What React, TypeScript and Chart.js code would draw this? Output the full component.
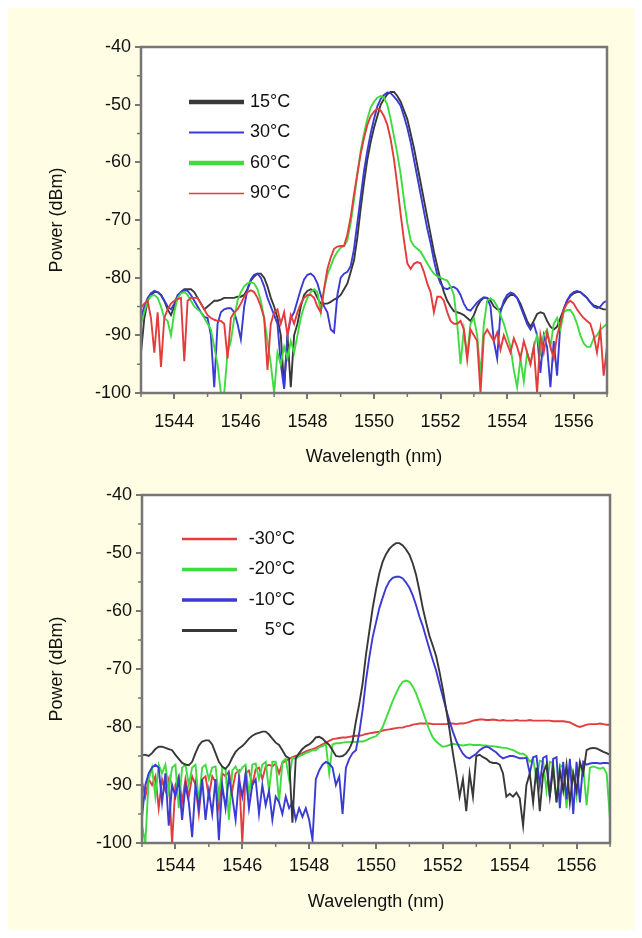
import React, { useEffect, useRef } from "react";
import { Chart, registerables } from "chart.js";

Chart.register(...registerables);

const FONT_FAMILY = '"Liberation Sans", Arial, Helvetica, sans-serif';
const AXIS_COLOR = "#767676";
const TEXT_COLOR = "#111111";

// Wavelength samples (nm)
const WAVELENGTH = [
  1543.0, 1543.1, 1543.2, 1543.3, 1543.4, 1543.5, 1543.6, 1543.7, 1543.8, 1543.9,
  1544.0, 1544.1, 1544.2, 1544.3, 1544.4, 1544.5, 1544.6, 1544.7, 1544.8, 1544.9,
  1545.0, 1545.1, 1545.2, 1545.3, 1545.4, 1545.5, 1545.6, 1545.7, 1545.8, 1545.9,
  1546.0, 1546.1, 1546.2, 1546.3, 1546.4, 1546.5, 1546.6, 1546.7, 1546.8, 1546.9,
  1547.0, 1547.1, 1547.2, 1547.3, 1547.4, 1547.5, 1547.6, 1547.7, 1547.8, 1547.9,
  1548.0, 1548.1, 1548.2, 1548.3, 1548.4, 1548.5, 1548.6, 1548.7, 1548.8, 1548.9,
  1549.0, 1549.1, 1549.2, 1549.3, 1549.4, 1549.5, 1549.6, 1549.7, 1549.8, 1549.9,
  1550.0, 1550.1, 1550.2, 1550.3, 1550.4, 1550.5, 1550.6, 1550.7, 1550.8, 1550.9,
  1551.0, 1551.1, 1551.2, 1551.3, 1551.4, 1551.5, 1551.6, 1551.7, 1551.8, 1551.9,
  1552.0, 1552.1, 1552.2, 1552.3, 1552.4, 1552.5, 1552.6, 1552.7, 1552.8, 1552.9,
  1553.0, 1553.1, 1553.2, 1553.3, 1553.4, 1553.5, 1553.6, 1553.7, 1553.8, 1553.9,
  1554.0, 1554.1, 1554.2, 1554.3, 1554.4, 1554.5, 1554.6, 1554.7, 1554.8, 1554.9,
  1555.0, 1555.1, 1555.2, 1555.3, 1555.4, 1555.5, 1555.6, 1555.7, 1555.8, 1555.9,
  1556.0, 1556.1, 1556.2, 1556.3, 1556.4, 1556.5, 1556.6, 1556.7, 1556.8, 1556.9,
  1557.0,
];

const X_TICKS = [1544, 1546, 1548, 1550, 1552, 1554, 1556];
const X_MINOR = [1543, 1545, 1547, 1549, 1551, 1553, 1555, 1557];
const Y_TICKS = [-100, -90, -80, -70, -60, -50, -40];
const Y_MINOR = [-95, -85, -75, -65, -55, -45];

// ---------- Top panel (high temperatures) ----------
const TOP_LABELS = ["15°C", "30°C", "60°C", "90°C"];

const P_15C = [
  -93, -87, -84, -83, -82.5, -82.5, -83, -84, -85.5, -86.5,
  -85, -83.5, -82.5, -82, -82, -82, -82.5, -83.5, -84.5, -85.5,
  -85, -84.5, -84, -84, -83.8, -83.5, -83.5, -83.5, -83.5, -83.3,
  -83.3, -83, -82, -80.5, -79.8, -79.3, -79.3, -80, -81.5, -83.5,
  -85, -87, -90, -99, -90, -99, -90, -88, -85, -83,
  -82.3, -82, -82.3, -83.5, -84.5, -84.5, -84.5, -84.2, -83.8, -83.5,
  -83, -82, -81, -79, -77, -73, -68, -63.5, -59.5, -56.5,
  -54, -52, -50, -49, -48.2, -47.8, -47.8, -48.5, -49.5, -51,
  -52.5, -55, -57.5, -60.5, -63.5, -66.5, -69.5, -72.5, -75.5, -78,
  -80.5, -82.5, -84, -85, -85.8, -86, -86.2, -86.5, -87, -87.5,
  -86.5, -85, -84, -83.5, -83.5, -84, -85, -85.5, -85.5, -84.5,
  -83.5, -83, -83, -83.5, -84.5, -86, -87.5, -88.5, -87.5, -86.3,
  -86, -86.2, -87.5, -88.5, -89, -88.5, -87, -85.5, -84, -83.2,
  -82.7, -82.5, -82.5, -83, -83.5, -84.3, -84.8, -85, -85.3, -85.5,
  -85.5,
];

const P_30C = [
  -87, -85, -83.5, -82.7, -82.3, -82.5, -83, -84, -85, -85.5,
  -84.5, -83, -82.5, -82.2, -82.3, -83, -84, -85, -86, -86.8,
  -87, -90, -99, -88, -86, -85.5, -85.3, -85.3, -86, -88,
  -90.7, -85, -82, -80.3, -79.5, -79.3, -80, -81.5, -83.5, -85,
  -86.5, -88, -95, -99.3, -90, -87, -86, -84, -82, -80.3,
  -79.5, -79.3, -79.8, -81, -83, -85, -86, -89, -89.5, -83,
  -80, -79.3, -79, -78, -75, -70.5, -66, -61.5, -58, -55,
  -52.5, -50.3, -49, -48.3, -47.9, -48, -48.6, -49.3, -50.2, -52,
  -54, -56.5, -59.5, -62.5, -65.5, -68.5, -71.5, -74, -77, -79.5,
  -81, -81.8, -82, -81.7, -81.6, -82, -83, -84.5, -85.5, -85.7,
  -85, -84.3, -83.8, -83.4, -83.5, -85, -91, -94, -86, -84,
  -83, -82.6, -82.8, -83.5, -85, -86.5, -88, -89, -88, -90,
  -96.5, -90, -92, -99, -91, -97, -88, -85.5, -84, -83,
  -82.5, -82.3, -82.5, -83, -83.5, -84.3, -85, -85.3, -85, -84.3,
  -84,
];

const P_60C = [
  -88, -86, -84, -83.2, -83, -83.5, -85, -87, -87.5, -90,
  -86, -83.5, -82.7, -82.5, -83, -84, -85, -85.5, -86, -87,
  -88, -89, -92, -95, -100, -100, -93, -91, -87, -84,
  -82.5, -81.5, -81, -80.8, -81, -82, -84, -87, -91, -95,
  -100, -93, -95, -92, -94, -91, -93, -90, -87, -85,
  -83.5, -82.5, -82, -82.5, -86, -82, -79.5, -78, -76.5, -75.5,
  -74.8, -74.5, -73.5, -70.5, -66.5, -62, -58, -55, -52.5, -50.5,
  -49.5, -48.8, -48.5, -48.8, -50, -52.5, -55.5, -58.5, -62, -66.5,
  -70.5, -73.5, -74.5, -75, -75.5, -76.5, -77.5, -78.5, -79.3, -79.8,
  -80, -80.3, -80.5, -81.5, -83, -88, -95, -89, -93.5, -88,
  -87, -90, -97, -88, -84, -83.6, -84, -85, -86.5, -88,
  -90, -92, -96, -99, -94, -98, -93, -95, -92, -90,
  -93, -90, -89, -92, -88, -87, -89, -86, -85.6, -85.6,
  -86.5, -88, -90, -91.4, -92, -92, -90.5, -90, -89, -88.5,
  -88,
];

const P_90C = [
  -85.2, -84.5, -84, -87, -93, -86, -95.5, -87, -85.5, -84.5,
  -84, -83.7, -83.5, -94.5, -84, -83.5, -83.5, -83.5, -84.5, -85.5,
  -86.5, -87, -87.3, -87.5, -87.5, -88, -94, -87, -86, -85.5,
  -84.5, -83.3, -82.5, -82.2, -82.5, -83.5, -85, -87, -96, -88,
  -86, -85.5, -88, -86, -90, -86.5, -88, -86, -84.5, -83.5,
  -83, -83, -83.5, -85, -86, -82, -78.5, -76.5, -75, -74.6,
  -74.5, -74.5, -72.5, -69.5, -65.5, -62, -58.5, -55.8, -53.5, -52,
  -51.2, -50.7, -51, -52, -53.5, -56, -59.5, -64, -69, -73.5,
  -77.5, -78.5, -77.6, -77.3, -77.5, -79, -81, -82.5, -86, -83.3,
  -83.3, -84, -86, -87.5, -88, -88, -87.5, -89, -94.2, -89,
  -90, -91, -100, -90, -89, -90, -91, -89.5, -92.5, -90,
  -91.5, -93, -90.5, -92, -94, -91, -93, -95, -92, -100,
  -90, -93, -89.5, -92, -94, -90, -88, -85.6, -84.5, -84,
  -84.5, -85.5, -86.3, -87, -87.5, -88, -90, -93, -89, -97,
  -92,
];

// ---------- Bottom panel (low temperatures) ----------
const BOTTOM_LABELS = ["-30°C", "-20°C", "-10°C", "5°C"];

const P_M30C = [
  -89.5, -92, -89, -90, -88.5, -94, -89, -91, -89, -100,
  -90, -88.5, -93, -89, -92, -88.5, -90, -95, -89, -88.5,
  -92, -88.5, -89.5, -94, -88, -88.5, -87.7, -91, -88, -87.5,
  -100, -88, -87.5, -90, -87.3, -87, -89, -86.8, -86.5, -86.8,
  -86.3, -88, -86.2, -85.8, -85.5, -85.2, -85, -84.8, -84.5, -84.2,
  -84, -83.8, -83.6, -83.3, -83, -82.7, -82.4, -82.1, -82, -81.9,
  -81.8, -81.8, -81.7, -81.6, -81.5, -81.5, -81.4, -81.2, -81.1, -81,
  -80.9, -80.8, -80.6, -80.5, -80.4, -80.3, -80.2, -80.1, -80.1, -79.9,
  -79.8, -79.6, -79.5, -79.4, -79.4, -79.4, -79.4, -79.5, -79.5, -79.5,
  -79.5, -79.5, -79.4, -79.4, -79.5, -79.4, -79.4, -79.3, -79.1, -78.9,
  -78.8, -78.7, -78.7, -78.8, -78.8, -78.7, -78.8, -78.9, -78.8, -78.9,
  -78.9, -78.9, -78.8, -78.9, -78.9, -78.9, -78.8, -78.9, -78.9, -78.9,
  -78.9, -78.9, -78.9, -79, -79, -79, -79, -79.1, -79.2, -79.5,
  -79.8, -80, -79.8, -79.6, -79.5, -79.5, -79.5, -79.4, -79.5, -79.6,
  -79.6,
];

const P_M20C = [
  -97, -100, -89, -87, -92, -86.5, -88, -86.5, -91, -87,
  -86.5, -94, -87, -86.5, -90, -87, -86.5, -93, -87, -86.5,
  -89, -87, -86.8, -92, -87, -87.3, -96, -87.5, -86.8, -88,
  -87, -86.5, -92, -86.5, -86.3, -89, -86.5, -86, -91, -86,
  -86, -93, -86, -85.5, -89, -85.3, -85.5, -85, -84.8, -84.5,
  -84.3, -84, -84, -83.5, -83.3, -83, -88, -83, -82.8, -82.8,
  -82.7, -82.6, -82.6, -82.5, -82.6, -82.5, -82.5, -82.3, -82, -81.8,
  -81.6, -81, -80, -78.5, -77, -75.5, -74.2, -73, -72.2, -72,
  -72.2, -73, -74.2, -75.8, -77.3, -79, -80.6, -81.8, -82.5, -83,
  -83.4, -83.3, -83.1, -82.9, -83, -83.1, -83.2, -83.1, -83, -83.1,
  -83.1, -83.1, -83.2, -83.2, -83.3, -83.3, -83.4, -83.5, -83.6, -83.6,
  -83.8, -84, -84.3, -84.6, -84.6, -85, -86, -85.5, -89, -85.8,
  -86, -91, -86, -86.2, -93, -86.5, -87, -94, -86.5, -88,
  -92, -86.8, -87, -93.5, -87, -86.8, -87, -87.2, -87, -88,
  -96,
];

const P_M10C = [
  -95.5, -90, -88, -87, -86.5, -87, -93, -88, -97, -90,
  -92, -89, -96, -90, -93, -99, -90, -94, -89, -96,
  -91, -95, -89, -99.5, -90, -94, -88.5, -92, -96, -89,
  -92, -88, -94, -90, -89, -95, -90, -93.5, -91, -96,
  -92, -93, -95, -92, -94, -93, -96, -94, -95.5, -94,
  -96, -99.5, -89, -87.5, -86.5, -86, -86.3, -87, -90, -88.5,
  -95, -87, -85.5, -84.5, -84, -81, -77, -72, -68, -64.5,
  -62, -59.5, -57.7, -56, -54.9, -54.3, -54.1, -54.1, -54.4, -55.1,
  -56, -57.3, -59, -61, -62.6, -64.6, -66.6, -68.5, -70.3, -72.6,
  -74.8, -77, -79, -80.8, -82.4, -83.6, -84.6, -85.2, -85.4, -85,
  -84.6, -84, -83.6, -83.4, -83.6, -84, -84.4, -85, -85.4, -85.2,
  -85, -85, -85.2, -85.4, -85.4, -85.3, -88, -85.2, -85, -90,
  -85.3, -85, -92, -85.5, -85.2, -94, -86, -92.5, -85.5, -95,
  -86, -93, -86, -86.5, -86.3, -86.2, -86.2, -86.3, -86.2, -86.2,
  -86.3,
];

const P_5C = [
  -84.8, -84.8, -85, -84.5, -83.8, -83.4, -83.4, -83.6, -83.8, -84,
  -84.8, -85.5, -86.2, -86.5, -86.6, -86, -84.5, -83.2, -82.5, -82.3,
  -82.3, -83, -84.5, -86, -86.8, -87.2, -86.5, -85.3, -84.3, -83.7,
  -83.3, -82.7, -82, -81.5, -81.2, -81, -80.8, -80.8, -81.3, -82,
  -82.7, -83.1, -84, -85, -85.4, -96.5, -85.4, -84.5, -83.8, -83.3,
  -83, -82.5, -81.8, -81.7, -82, -82.6, -83.1, -84, -85, -85.1,
  -85, -84.6, -83.8, -82.5, -79, -76, -72.5, -67.5, -63.5, -59.5,
  -56.3, -53.5, -51.5, -50.2, -49.3, -48.7, -48.3, -48.3, -48.7, -49.4,
  -50.3, -51.8, -53.8, -56.5, -59.5, -62, -64.3, -66, -67.8, -70.5,
  -73.5, -77, -80.5, -84.5, -88, -92, -89, -94.5, -88, -92,
  -85, -84.8, -85.2, -85.5, -86, -86.2, -86.2, -86.5, -88, -92,
  -91.5, -92, -91.3, -92.3, -97, -90, -88, -93, -87, -94.5,
  -88, -86.5, -92, -87, -93, -87.5, -91, -86.5, -93, -88,
  -91, -86, -88, -84, -83.7, -83.6, -83.7, -84, -84.3, -84.5,
  -84.8,
];

const BLACK = "#383838";
const BLUE = "#3a3ad4";
const GREEN = "#3fdb3f";
const RED = "#e23c3c";

type LegendSpec = {
  x0: number;
  x1: number;
  tx: number;
  align: CanvasTextAlign;
  y0: number;
  dy: number;
  widths: number[];
};

type Spec = {
  labels: string[];
  series: number[][];
  colors: string[];
  legend: LegendSpec;
  padTop: number;
  padRight: number;
  yWidth: number;
  xHeight: number;
  xTickPad: number;
  xTitlePad: number;
};

const TOP_SPEC: Spec = {
  labels: TOP_LABELS,
  series: [P_15C, P_30C, P_60C, P_90C],
  colors: [BLACK, BLUE, GREEN, RED],
  legend: { x0: 181, x1: 236, tx: 242, align: "left", y0: 94, dy: 30.5, widths: [4.5, 2, 4.5, 1.6] },
  padTop: 39,
  padRight: 27,
  yWidth: 133,
  xHeight: 75,
  xTickPad: 12,
  xTitlePad: 0,
};

const BOTTOM_SPEC: Spec = {
  labels: BOTTOM_LABELS,
  series: [P_M30C, P_M20C, P_M10C, P_5C],
  colors: [RED, GREEN, BLUE, BLACK],
  legend: { x0: 174, x1: 229, tx: 287, align: "right", y0: 71, dy: 30.5, widths: [2.5, 3.5, 3.5, 3] },
  padTop: 27,
  padRight: 24,
  yWidth: 134,
  xHeight: 85,
  xTickPad: 6,
  xTitlePad: 15,
};

function SpectrumChart({ spec, top }: { spec: Spec; top: number }) {
  const ref = useRef<HTMLCanvasElement | null>(null);

  useEffect(() => {
    const canvas = ref.current;
    if (!canvas) return;
    const n = spec.series.length;
    const datasets = spec.series.map((s, i) => ({
      label: spec.labels[i],
      data: WAVELENGTH.map((x, j) => ({ x, y: s[j] })),
      borderColor: spec.colors[i],
      backgroundColor: spec.colors[i],
      borderWidth: 1.9,
      pointRadius: 0,
      tension: 0,
      fill: false,
      order: n - 1 - i,
    }));

    const tickFont = { family: FONT_FAMILY, size: 18 };

    const decor = {
      id: "decor",
      beforeDraw(chart: any) {
        const { ctx, chartArea: a } = chart;
        ctx.save();
        ctx.fillStyle = "#ffffff";
        ctx.fillRect(a.left, a.top, a.right - a.left, a.bottom - a.top);
        ctx.restore();
      },
      afterDatasetsDraw(chart: any) {
        const { ctx, chartArea: a, scales } = chart;
        ctx.save();
        ctx.strokeStyle = AXIS_COLOR;
        ctx.lineWidth = 2.5;
        ctx.strokeRect(a.left, a.top, a.right - a.left, a.bottom - a.top);
        ctx.lineWidth = 1.5;
        ctx.beginPath();
        for (const v of X_MINOR) {
          const px = scales.x.getPixelForValue(v);
          ctx.moveTo(px, a.bottom);
          ctx.lineTo(px, a.bottom + 4);
        }
        for (const v of Y_MINOR) {
          const py = scales.y.getPixelForValue(v);
          ctx.moveTo(a.left, py);
          ctx.lineTo(a.left - 4, py);
        }
        ctx.stroke();

        // legend
        const L = spec.legend;
        ctx.font = `18px ${FONT_FAMILY}`;
        ctx.textBaseline = "middle";
        ctx.textAlign = L.align;
        chart.data.datasets.forEach((ds: any, i: number) => {
          const y = L.y0 + i * L.dy;
          ctx.strokeStyle = ds.borderColor;
          ctx.lineWidth = L.widths[i];
          ctx.beginPath();
          ctx.moveTo(L.x0, y);
          ctx.lineTo(L.x1, y);
          ctx.stroke();
          ctx.fillStyle = TEXT_COLOR;
          ctx.fillText(ds.label, L.tx, y);
        });
        ctx.restore();
      },
    };

    const chart = new Chart(canvas, {
      type: "line",
      data: { datasets: datasets as any },
      options: {
        animation: false,
        responsive: false,
        maintainAspectRatio: false,
        layout: { padding: { top: spec.padTop, right: spec.padRight, left: 0, bottom: 0 } },
        plugins: {
          legend: { display: false },
          tooltip: { enabled: false },
        },
        scales: {
          x: {
            type: "linear",
            min: 1543,
            max: 1557,
            afterBuildTicks: (s: any) => {
              s.ticks = X_TICKS.map((v) => ({ value: v }));
            },
            afterFit: (s: any) => {
              s.height = spec.xHeight;
              s.paddingLeft = 0;
              s.paddingRight = 0;
              s.paddingTop = 0;
              s.paddingBottom = 0;
            },
            grid: {
              drawOnChartArea: false,
              drawTicks: true,
              tickLength: 6,
              color: AXIS_COLOR,
              lineWidth: 2,
            },
            border: { display: false },
            ticks: {
              font: tickFont,
              color: TEXT_COLOR,
              padding: spec.xTickPad,
              maxRotation: 0,
              autoSkip: false,
              callback: (v: any) => String(v),
            },
            title: {
              display: true,
              text: "Wavelength (nm)",
              font: tickFont,
              color: TEXT_COLOR,
              padding: { top: 0, bottom: spec.xTitlePad },
            },
          },
          y: {
            type: "linear",
            min: -100,
            max: -40,
            afterBuildTicks: (s: any) => {
              s.ticks = Y_TICKS.map((v) => ({ value: v }));
            },
            afterFit: (s: any) => {
              s.width = spec.yWidth;
              s.paddingLeft = 0;
              s.paddingRight = 0;
              s.paddingTop = 0;
              s.paddingBottom = 0;
            },
            grid: {
              drawOnChartArea: false,
              drawTicks: true,
              tickLength: 6,
              color: AXIS_COLOR,
              lineWidth: 2,
            },
            border: { display: false },
            ticks: {
              font: tickFont,
              color: TEXT_COLOR,
              padding: 4,
              autoSkip: false,
              callback: (v: any) => String(v),
            },
            title: {
              display: true,
              text: "Power (dBm)",
              font: tickFont,
              color: TEXT_COLOR,
              padding: { top: 38, bottom: 0 },
            },
          },
        },
      } as any,
      plugins: [decor as any],
    });
    return () => chart.destroy();
  }, [spec]);

  return (
    <canvas
      ref={ref}
      width={626}
      height={460}
      style={{ position: "absolute", left: 0, top, width: 626, height: 460, display: "block" }}
    />
  );
}

export default function App() {
  return (
    <div style={{ position: "relative", width: 626, height: 922, background: "#FFFDE3" }}>
      <SpectrumChart spec={TOP_SPEC} top={0} />
      <SpectrumChart spec={BOTTOM_SPEC} top={460} />
    </div>
  );
}
